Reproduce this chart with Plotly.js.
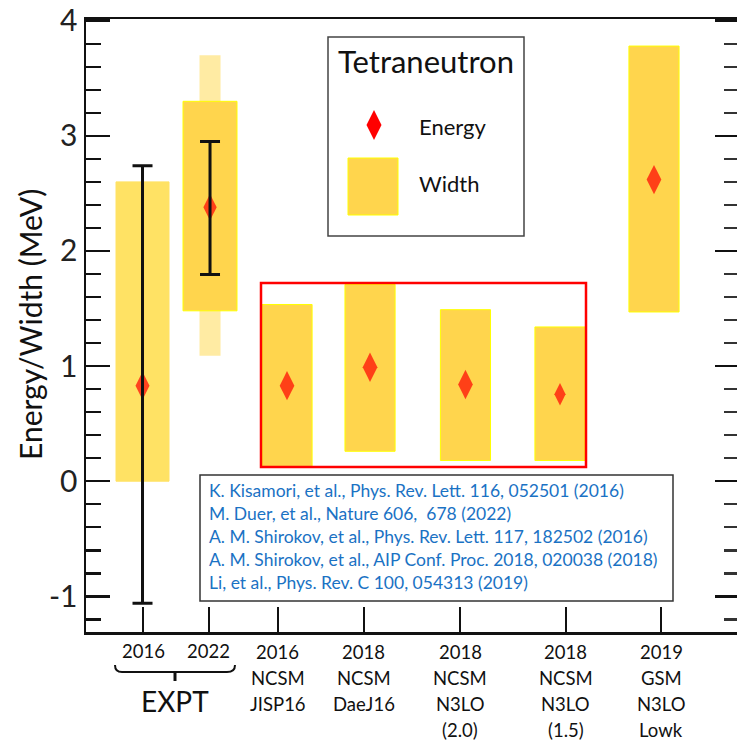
<!DOCTYPE html>
<html><head><meta charset="utf-8">
<script src="https://cdn.plot.ly/plotly-3.0.1.min.js"></script>
<style>html,body{margin:0;padding:0;background:#fff;overflow:hidden}#chart{width:737px;height:743px}</style>
</head><body><div id="chart"></div>
<script>
// ---------------- data ----------------
const categories = ['2016', '2022', '2016 NCSM JISP16', '2018 NCSM DaeJ16', '2018 NCSM N3LO (2.0)', '2018 NCSM N3LO (1.5)', '2019 GSM N3LO Lowk'];
const tickLabelLines = [['2016'], ['2022'], ['2016', 'NCSM', 'JISP16'], ['2018', 'NCSM', 'DaeJ16'],
  ['2018', 'NCSM', 'N3LO', '(2.0)'], ['2018', 'NCSM', 'N3LO', '(1.5)'], ['2019', 'GSM', 'N3LO', 'Lowk']];
const energy = [0.83, 2.38, 0.83, 0.99, 0.84, 0.755, 2.62];
const widthLow = [0.00, 1.48, 0.12, 0.26, 0.18, 0.18, 1.47];
const widthHigh = [2.60, 3.30, 1.535, 1.71, 1.49, 1.34, 3.78];
const exptErrLow = [-1.06, 1.795];
const exptErrHigh = [2.74, 2.95];
const ext2022Low = [1.09];
const ext2022High = [3.70];
const yTickVals = [-1, 0, 1, 2, 3, 4];
const yTickText = ['-1', '0', '1', '2', '3', '4'];
const yTitle = 'Energy/Width (MeV)';
const groupLabel = 'EXPT';
const legendTitle = 'Tetraneutron';
const legendItems = ['Energy', 'Width'];
const references = [
  'K. Kisamori, et al., Phys. Rev. Lett. 116, 052501 (2016)',
  'M. Duer, et al., Nature 606,  678 (2022)',
  'A. M. Shirokov, et al., Phys. Rev. Lett. 117, 182502 (2016)',
  'A. M. Shirokov, et al., AIP Conf. Proc. 2018, 020038 (2018)',
  'Li, et al., Phys. Rev. C 100, 054313 (2019)'
];

// ---------------- layout constants ----------------
const W = 737, H = 743, ML = 86, MR = 0, MT = 19, MB = 111;
const PW = W - ML - MR, PH = H - MT - MB;
const px = X => (X - ML) / PW;          // pixel -> paper x
const py = Y => (H - MB - Y) / PH;      // pixel -> paper y
const slotBar = [0.868, 1.905, 3.088, 4.363, 5.829, 7.281, 8.725];
const slotTick = [0.876, 1.889, 2.949, 4.270, 5.745, 7.373, 8.833];
const barW = [0.814, 0.829, 0.77, 0.77, 0.77, 0.77, 0.77];
const FONT = 'Lato, "Open Sans", sans-serif';
const GOLD = '#FFD54D', GOLD_EXPT = '#FFE264', GOLD_LIGHT = '#FFEBA3';

const traces = [
  { type: 'bar', x: [slotBar[1]], base: ext2022Low, y: ext2022High.map((v, i) => v - ext2022Low[i]),
    width: [0.323], marker: { color: GOLD_LIGHT, line: { width: 0 } }, hoverinfo: 'skip', showlegend: false },
  { type: 'bar', x: slotBar, base: widthLow, y: widthHigh.map((v, i) => v - widthLow[i]), width: barW,
    text: categories, hoverinfo: 'text', textposition: 'none',
    marker: { color: categories.map((c, i) => i === 0 ? GOLD_EXPT : GOLD),
      line: { color: categories.map((c, i) => i === 0 ? GOLD_EXPT : '#FFFF00'), width: 1 } }, showlegend: false },
  // experimental energies (diamonds), then their error bars drawn on top
  { type: 'scatter', mode: 'markers', x: slotBar.slice(0, 2), y: energy.slice(0, 2),
    marker: { symbol: 'diamond-tall', color: '#FF0000', size: [20, 19], line: { width: 0 } }, showlegend: false },
  { type: 'scatter', mode: 'markers', x: slotBar.slice(0, 2), y: energy.slice(0, 2), hoverinfo: 'skip',
    error_y: { type: 'data', symmetric: false,
      array: exptErrHigh.map((v, i) => v - energy[i]), arrayminus: exptErrLow.map((v, i) => energy[i] - v),
      color: '#111', thickness: 3, width: 10 },
    marker: { size: 1, opacity: 0 }, showlegend: false },
  { type: 'scatter', mode: 'markers', x: slotBar.slice(2), y: energy.slice(2),
    marker: { symbol: 'diamond-tall', color: '#FF0000', size: [21, 21, 21, 16, 21], line: { width: 0 } }, showlegend: false },
  { type: 'scatter', x: [slotBar[0]], y: [energy[0]], yaxis: 'y2', mode: 'markers', marker: { opacity: 0 }, hoverinfo: 'skip', showlegend: false }
];

const shapes = [
  // red box around NCSM results
  { type: 'rect', xref: 'paper', yref: 'paper', x0: px(261), x1: px(586), y0: py(283), y1: py(467),
    line: { color: '#FF0000', width: 2.5 }, layer: 'above' },
  // legend box
  { type: 'rect', xref: 'paper', yref: 'paper', x0: px(328), x1: px(524), y0: py(37), y1: py(236),
    line: { color: '#444', width: 1.5 }, fillcolor: '#fff', layer: 'above' },
  { type: 'rect', xref: 'paper', yref: 'paper', x0: px(348), x1: px(398), y0: py(158), y1: py(215),
    line: { color: '#FFFF00', width: 1 }, fillcolor: GOLD, layer: 'above' },
  { type: 'path', xref: 'paper', yref: 'paper',
    path: `M${px(374)},${py(110)} L${px(381.5)},${py(125)} L${px(374)},${py(140)} L${px(366.5)},${py(125)} Z`,
    line: { width: 0 }, fillcolor: '#FF0000', layer: 'above' },
  // references box
  { type: 'rect', xref: 'paper', yref: 'paper', x0: px(200), x1: px(673), y0: py(475), y1: py(601),
    line: { color: '#333', width: 1.5 }, fillcolor: '#fff', layer: 'above' },
  // EXPT brace
  { type: 'path', xref: 'paper', yref: 'paper',
    path: `M${px(115)},${py(665)} Q${px(115)},${py(672)} ${px(122)},${py(672)} L${px(227)},${py(672)} Q${px(235)},${py(672)} ${px(235)},${py(665)}`,
    line: { color: '#111', width: 2 } },
  { type: 'line', xref: 'paper', yref: 'paper', x0: px(175), x1: px(175), y0: py(672), y1: py(681),
    line: { color: '#111', width: 3 } }
];

const annotations = [];
annotations.push({ xref: 'paper', yref: 'paper', x: px(30), y: py(325), text: yTitle, textangle: -90, showarrow: false,
  xanchor: 'center', yanchor: 'middle', font: { family: FONT, size: 30, color: '#111' } });
annotations.push({ xref: 'paper', yref: 'paper', x: px(426), y: py(61), text: legendTitle, showarrow: false,
  xanchor: 'center', yanchor: 'middle', font: { family: FONT, size: 31, color: '#111' } });
annotations.push({ xref: 'paper', yref: 'paper', x: px(417), y: py(127), text: legendItems[0], showarrow: false,
  xanchor: 'left', yanchor: 'middle', font: { family: FONT, size: 22, color: '#111' } });
annotations.push({ xref: 'paper', yref: 'paper', x: px(417), y: py(184), text: legendItems[1], showarrow: false,
  xanchor: 'left', yanchor: 'middle', font: { family: FONT, size: 22, color: '#111' } });
references.forEach((r, i) => annotations.push({ xref: 'paper', yref: 'paper', x: px(207), y: py(490 + 23.2 * i),
  text: r, showarrow: false, xanchor: 'left', yanchor: 'middle', font: { family: FONT, size: 17.5, color: '#1A72C4' } }));
tickLabelLines.forEach((lines, i) => lines.forEach((t, j) => annotations.push({ xref: 'x', yref: 'paper',
  x: slotTick[i], y: py((i < 2 ? 651 : 652) + 26 * j), text: t, showarrow: false, xanchor: 'center', yanchor: 'middle',
  font: { family: FONT, size: 18.5, color: '#111' } })));
annotations.push({ xref: 'paper', yref: 'paper', x: px(175), y: py(701), text: groupLabel, showarrow: false,
  xanchor: 'center', yanchor: 'middle', font: { family: FONT, size: 28, color: '#111' } });

const yCommon = { range: [-1.31, 4.015], tickmode: 'array', tickvals: yTickVals, ticktext: yTickText,
  showgrid: false, zeroline: false, ticks: 'inside', tickcolor: '#111', tickwidth: 2.5 };
const layout = {
  width: W, height: H, margin: { l: ML, r: MR, t: MT, b: MB }, paper_bgcolor: '#fff', plot_bgcolor: '#fff',
  barmode: 'overlay', showlegend: false, font: { family: FONT },
  xaxis: { range: [0, 10], tickvals: slotTick, showticklabels: false, ticks: 'inside', ticklen: 25, tickwidth: 2.5, tickcolor: '#111',
    showline: true, linewidth: 2.5, linecolor: '#111', mirror: true, showgrid: false, zeroline: false },
  yaxis: Object.assign({}, yCommon, { ticklen: 24, showline: true, linewidth: 2.5, linecolor: '#111',
    minor: { tickmode: 'linear', tick0: 0, dtick: 0.2, ticks: 'inside', ticklen: 15, tickwidth: 2.5, tickcolor: '#111', showgrid: false },
    tickfont: { family: FONT, size: 30, color: '#222' } }),
  yaxis2: Object.assign({}, yCommon, { overlaying: 'y', side: 'right', ticklen: 22, showline: false, showticklabels: false,
    minor: { tickmode: 'linear', tick0: 0, dtick: 0.2, ticks: 'inside', ticklen: 13, tickwidth: 2.5, tickcolor: '#333', showgrid: false } }),
  shapes: shapes, annotations: annotations
};
Plotly.newPlot('chart', traces, layout, { displayModeBar: false, staticPlot: true });
</script></body></html>
